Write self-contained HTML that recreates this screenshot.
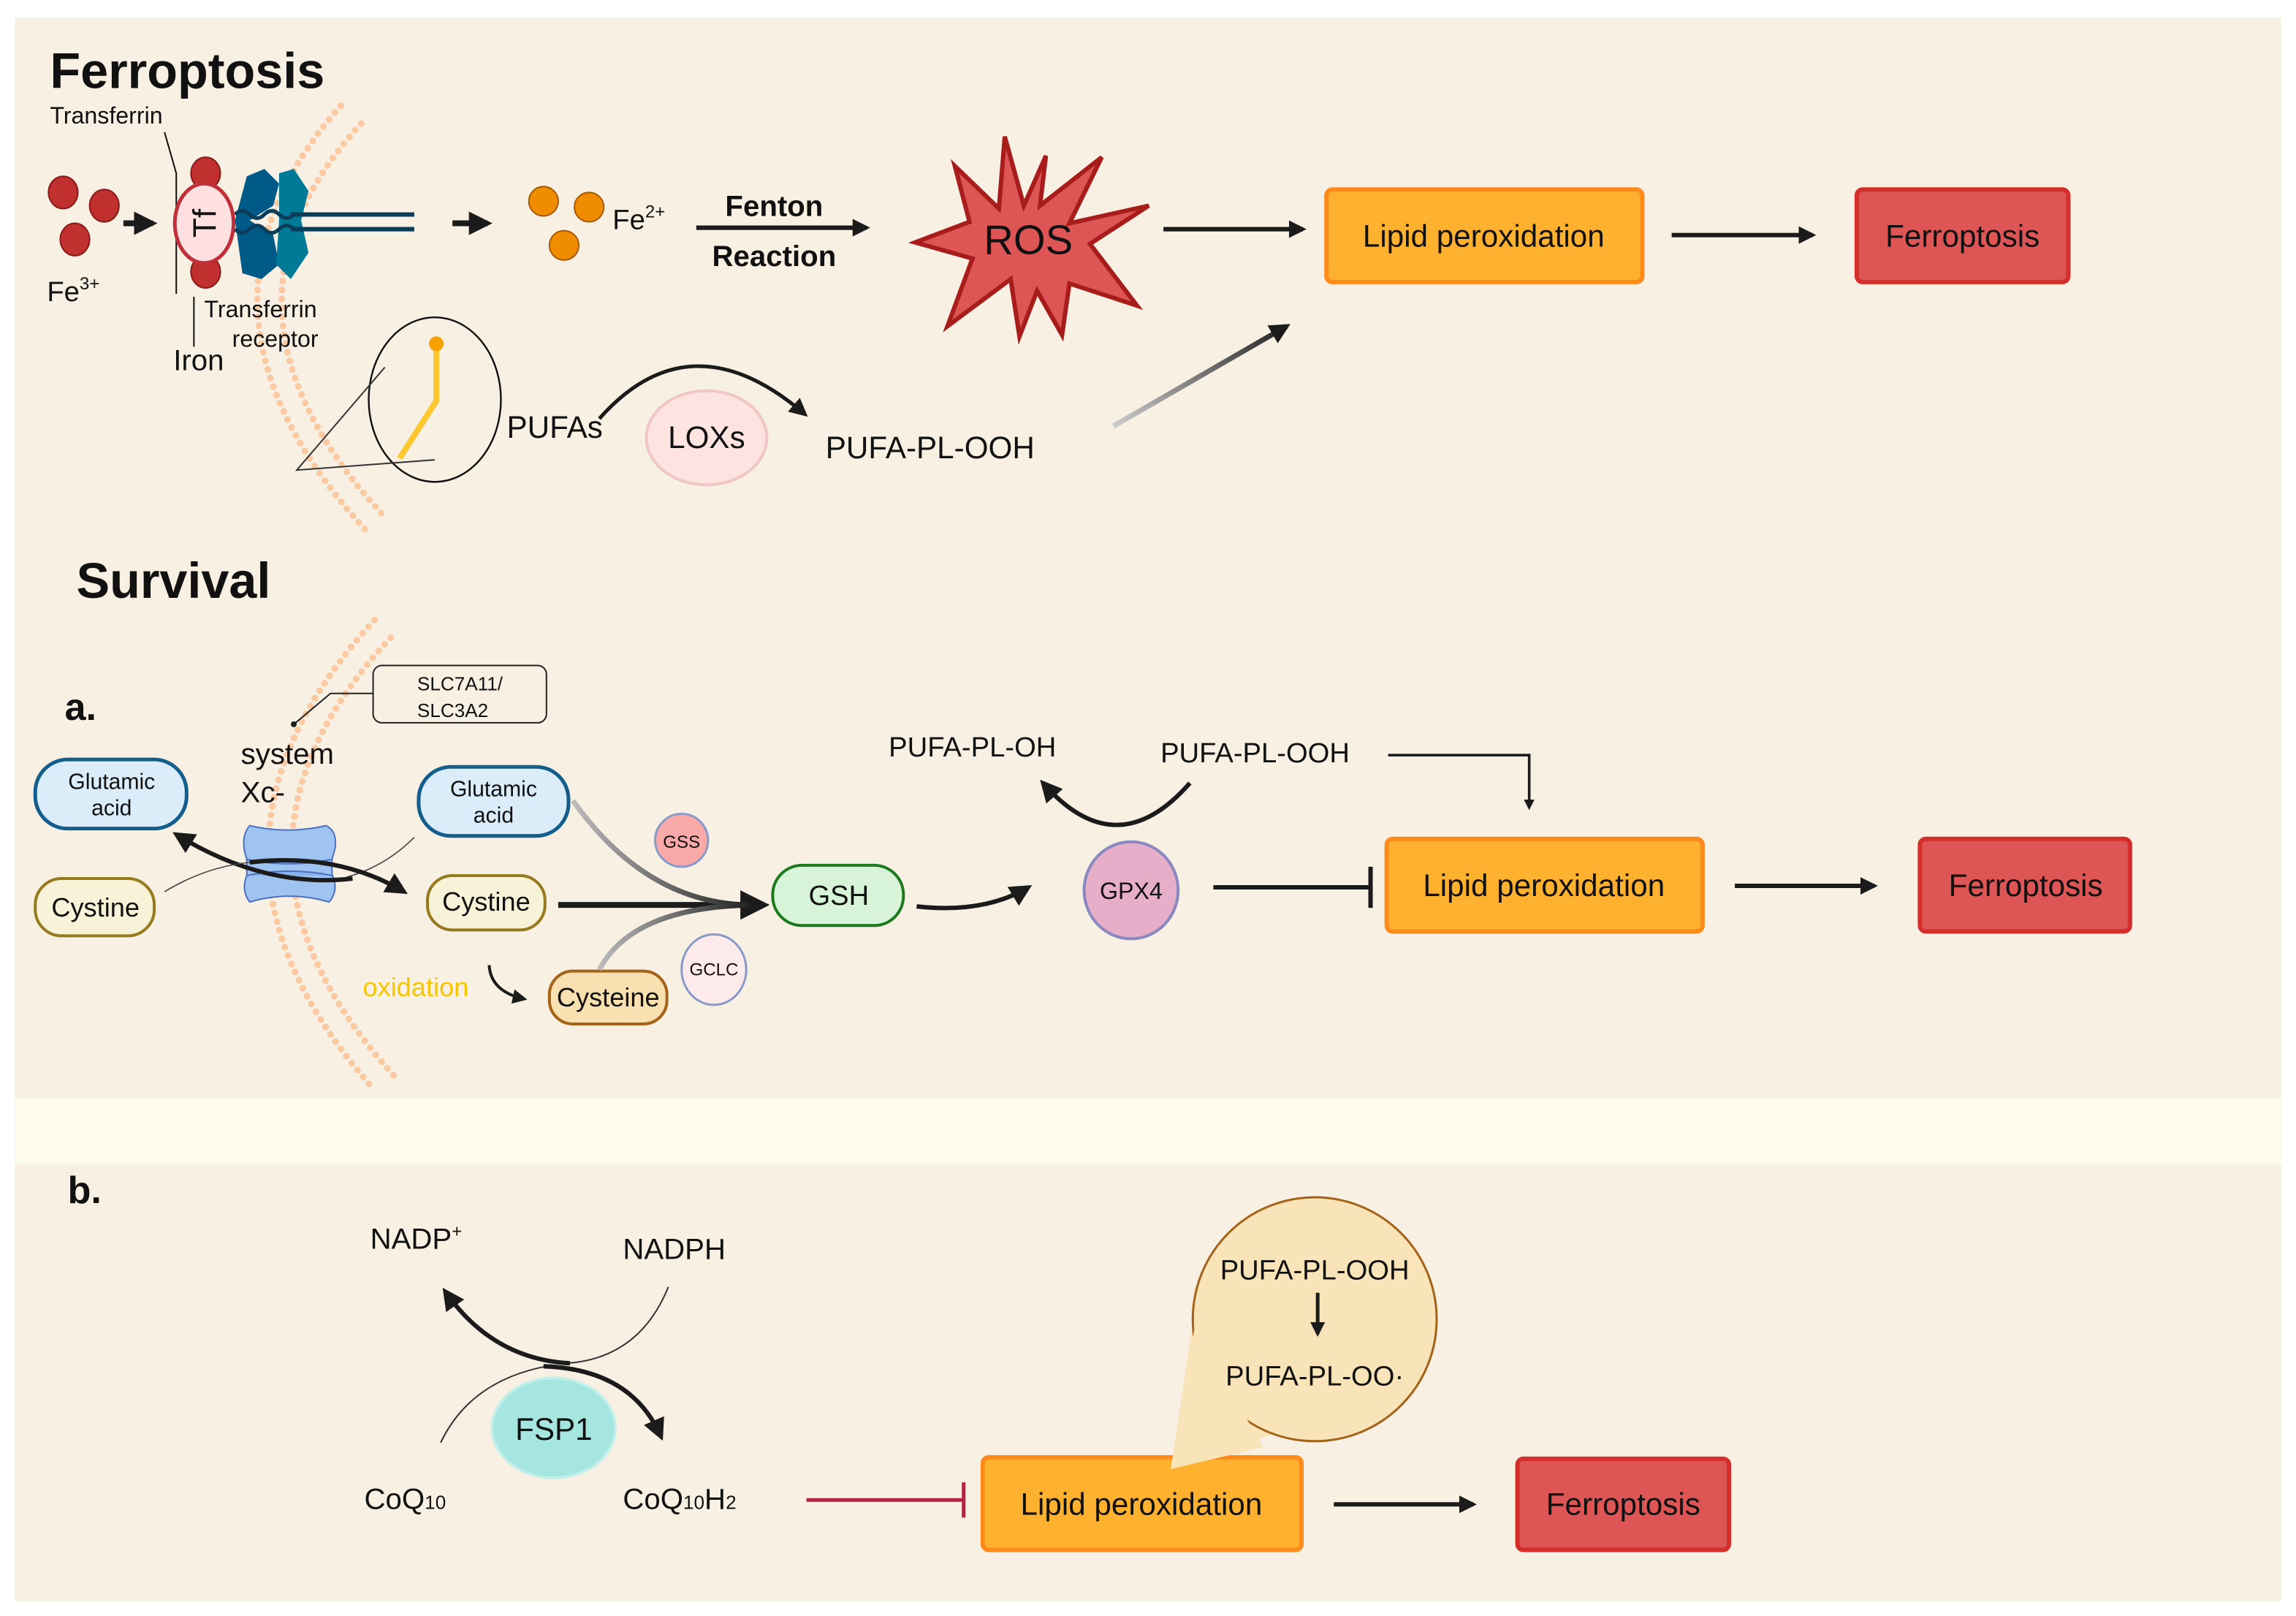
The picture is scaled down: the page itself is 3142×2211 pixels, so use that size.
<!DOCTYPE html>
<html><head><meta charset="utf-8"><style>
html,body{margin:0;padding:0;background:#fff}
svg{display:block}
text{font-family:"Liberation Sans",sans-serif;fill:#111}
</style></head><body>
<svg width="3142" height="2211" viewBox="0 0 1563 1100" preserveAspectRatio="none" xmlns="http://www.w3.org/2000/svg">
<defs>
<marker id="ah" viewBox="0 0 10 10" refX="8" refY="5" markerWidth="4" markerHeight="4" orient="auto-start-reverse" markerUnits="strokeWidth"><path d="M0,0 L10,5 L0,10 z" fill="#1b1b1b"/></marker>
<marker id="ahs" viewBox="0 0 10 10" refX="8" refY="5" markerWidth="5" markerHeight="5" orient="auto-start-reverse" markerUnits="strokeWidth"><path d="M0,0 L10,5 L0,10 z" fill="#1b1b1b"/></marker>
<linearGradient id="g1" x1="0" y1="0" x2="1" y2="0"><stop offset="0" stop-color="#bbb"/><stop offset="1" stop-color="#222"/></linearGradient>
<linearGradient id="g2" x1="0" y1="1" x2="1" y2="0"><stop offset="0" stop-color="#ccc"/><stop offset="1" stop-color="#222"/></linearGradient>
</defs>
<rect x="0" y="0" width="1563" height="1100" fill="#fff"/>
<rect x="10" y="12" width="1543" height="736" fill="#f7f0e3"/>
<rect x="10" y="748" width="1543" height="44" fill="#fdfbee"/>
<rect x="10" y="792" width="1543" height="298" fill="#f7f0e3"/>

<g fill="none" stroke="#fbc9a2" stroke-width="4.5" stroke-linecap="round" stroke-dasharray="0.1 6">
<path d="M232,72 Q110,210 250,362"/>
<path d="M246,84 Q130,210 262,352"/>
<path d="M255,422 Q110,580 255,742"/>
<path d="M266,434 Q130,580 268,732"/>
</g>

<text x="34" y="60" font-size="34" font-weight="bold">Ferroptosis</text>
<text x="52" y="407" font-size="34" font-weight="bold">Survival</text>
<text x="44" y="490" font-size="26" font-weight="bold">a.</text>
<text x="46" y="819" font-size="26" font-weight="bold">b.</text>

<text x="34" y="84" font-size="16">Transferrin</text>
<path d="M112,90 L120,118 L120,200" stroke="#111" stroke-width="1" fill="none"/>
<g fill="#c0302f" stroke="#8a1a1a" stroke-width="1">
<ellipse cx="43" cy="131" rx="10" ry="11"/><ellipse cx="71" cy="140" rx="10" ry="11"/><ellipse cx="51" cy="163" rx="10" ry="11"/>
<ellipse cx="140" cy="118" rx="10" ry="11"/><ellipse cx="140" cy="185" rx="10" ry="11"/>
</g>
<text x="32" y="205" font-size="19">Fe<tspan font-size="12" dy="-8">3+</tspan></text>
<line x1="84" y1="152" x2="104" y2="152" stroke="#1b1b1b" stroke-width="4" marker-end="url(#ah)"/>
<path d="M168,120 L180,115 L190,125 L186,140 L170,150 L186,160 L190,180 L178,190 L165,186 L160,150 Z" fill="#005a88"/>
<path d="M190,118 L200,115 L210,130 L205,150 L210,172 L198,190 L188,180 L190,150 Z" fill="#007a96"/>
<ellipse cx="139" cy="152" rx="20" ry="27" fill="#fde0df" stroke="#c0303a" stroke-width="2.5"/>
<text x="0" y="0" font-size="22" transform="translate(147,152) rotate(-90)" text-anchor="middle">Tf</text>
<line x1="198" y1="146" x2="282" y2="146" stroke="#0a3d5a" stroke-width="3"/>
<line x1="198" y1="156" x2="282" y2="156" stroke="#0a3d5a" stroke-width="3"/>
<path d="M160,146 q5,-5 10,0 q5,5 10,0 q5,-5 10,0 q5,5 10,0 M160,156 q5,5 10,0 q5,-5 10,0 q5,5 10,0 q5,-5 10,0" stroke="#0a3d5a" stroke-width="2.5" fill="none"/>
<line x1="132" y1="202" x2="132" y2="236" stroke="#111" stroke-width="1"/>
<text x="118" y="252" font-size="20">Iron</text>
<text x="139" y="216" font-size="16">Transferrin</text>
<text x="158" y="236" font-size="16">receptor</text>

<line x1="308" y1="152" x2="332" y2="152" stroke="#1b1b1b" stroke-width="4" marker-end="url(#ah)"/>
<g fill="#f08c00" stroke="#a85a00" stroke-width="1">
<circle cx="370" cy="137" r="10"/><circle cx="401" cy="141" r="10"/><circle cx="384" cy="167" r="10"/>
</g>
<text x="417" y="156" font-size="19">Fe<tspan font-size="12" dy="-8">2+</tspan></text>
<text x="527" y="147" font-size="20" font-weight="bold" text-anchor="middle">Fenton</text>
<text x="527" y="181" font-size="20" font-weight="bold" text-anchor="middle">Reaction</text>
<line x1="474" y1="155" x2="590" y2="155" stroke="#1b1b1b" stroke-width="3" marker-end="url(#ah)"/>

<polygon points="684,93 697,140 712,106 708,140 750,107 728,152 782,140 742,166 774,208 728,193 723,228 706,198 694,229 688,190 645,222 662,176 623,165 660,151 650,113 680,142" fill="#dd5555" stroke="#a81c1c" stroke-width="3"/>
<text x="700" y="173" font-size="28" text-anchor="middle">ROS</text>

<line x1="792" y1="156" x2="887" y2="156" stroke="#1b1b1b" stroke-width="3" marker-end="url(#ah)"/>
<rect x="903" y="129" width="215" height="63" rx="4" fill="#fdb12f" stroke="#fd8b1c" stroke-width="3"/>
<text x="1010" y="168" font-size="21" text-anchor="middle">Lipid peroxidation</text>
<line x1="1138" y1="160" x2="1234" y2="160" stroke="#1b1b1b" stroke-width="3" marker-end="url(#ah)"/>
<rect x="1264" y="129" width="144" height="63" rx="4" fill="#dd5555" stroke="#d42f2a" stroke-width="3"/>
<text x="1336" y="168" font-size="21" text-anchor="middle">Ferroptosis</text>

<ellipse cx="296" cy="272" rx="45" ry="56" fill="none" stroke="#111" stroke-width="1.2"/>
<path d="M262,250 L202,320 L296,313" fill="none" stroke="#333" stroke-width="1"/>
<path d="M297,235 L297,273 L272,312" fill="none" stroke="#fdc82f" stroke-width="4"/>
<circle cx="297" cy="234" r="5" fill="#f7a000"/>
<text x="345" y="298" font-size="21">PUFAs</text>
<path d="M408,285 Q470,215 548,282" fill="none" stroke="#1b1b1b" stroke-width="2.5" marker-end="url(#ahs)"/>
<ellipse cx="481" cy="298" rx="41" ry="32" fill="#fde4e0" stroke="#f0c6c6" stroke-width="2"/>
<text x="481" y="305" font-size="21" text-anchor="middle">LOXs</text>
<text x="562" y="312" font-size="21">PUFA-PL-OOH</text>
<line x1="758" y1="290" x2="876" y2="222" stroke="url(#g2)" stroke-width="3.5" marker-end="url(#ah)"/>

<rect x="254" y="453" width="118" height="39" rx="6" fill="none" stroke="#222" stroke-width="1"/>
<text x="284" y="470" font-size="13">SLC7A11/</text>
<text x="284" y="488" font-size="13">SLC3A2</text>
<path d="M254,472 L225,472 L200,493" fill="none" stroke="#222" stroke-width="1"/>
<circle cx="200" cy="493" r="2" fill="#222"/>
<text x="164" y="520" font-size="20">system</text>
<text x="164" y="546" font-size="20">Xc-</text>

<rect x="24" y="517" width="103" height="47" rx="22" fill="#dcedfa" stroke="#135e8c" stroke-width="2.5"/>
<text x="76" y="537" font-size="15" text-anchor="middle">Glutamic</text>
<text x="76" y="555" font-size="15" text-anchor="middle">acid</text>
<rect x="24" y="598" width="81" height="39" rx="18" fill="#f8f3d8" stroke="#957a1e" stroke-width="2"/>
<text x="65" y="624" font-size="18" text-anchor="middle">Cystine</text>
<rect x="285" y="522" width="102" height="47" rx="22" fill="#dcedfa" stroke="#135e8c" stroke-width="2.5"/>
<text x="336" y="542" font-size="15" text-anchor="middle">Glutamic</text>
<text x="336" y="560" font-size="15" text-anchor="middle">acid</text>
<rect x="291" y="596" width="80" height="37" rx="17" fill="#f8f3d8" stroke="#957a1e" stroke-width="2"/>
<text x="331" y="620" font-size="18" text-anchor="middle">Cystine</text>
<rect x="374" y="661" width="80" height="36" rx="16" fill="#f8e0b0" stroke="#a46318" stroke-width="2"/>
<text x="414" y="685" font-size="18" text-anchor="middle">Cysteine</text>

<path d="M170,562 Q196,568 222,562 Q230,566 228,578 L226,585 L226,595 Q231,606 224,614 Q197,606 170,614 Q164,606 168,596 L168,585 Q163,570 170,562 Z" fill="#a0c4f2" stroke="#4a70c0" stroke-width="1"/>
<path d="M168,585 Q197,591 226,585 M168,596 Q197,590 226,596" fill="#8ab2ec" stroke="#4a70c0" stroke-width="1"/>
<path d="M282,570 Q262,590 236,597" fill="none" stroke="#444" stroke-width="0.8"/>
<path d="M240,598 Q180,605 120,568" fill="none" stroke="#1b1b1b" stroke-width="3" marker-end="url(#ahs)"/>
<path d="M112,607 Q140,590 170,587" fill="none" stroke="#444" stroke-width="0.8"/>
<path d="M170,587 Q230,580 275,607" fill="none" stroke="#1b1b1b" stroke-width="3" marker-end="url(#ahs)"/>

<line x1="380" y1="616" x2="520" y2="616" stroke="#1b1b1b" stroke-width="4" marker-end="url(#ahs)"/>
<path d="M390,545 Q440,615 510,616" fill="none" stroke="url(#g1)" stroke-width="3.5"/>
<path d="M408,660 Q430,618 510,616" fill="none" stroke="url(#g1)" stroke-width="3.5"/>
<circle cx="464" cy="572" r="18" fill="#f9aaa8" stroke="#8a9ac8" stroke-width="1.5"/>
<text x="464" y="577" font-size="12" text-anchor="middle">GSS</text>
<ellipse cx="486" cy="660" rx="22" ry="24" fill="#fcebea" stroke="#8a9ac8" stroke-width="1.5"/>
<text x="486" y="664" font-size="12" text-anchor="middle">GCLC</text>
<text x="247" y="678" font-size="18" style="fill:#f7c600">oxidation</text>
<path d="M333,657 Q334,675 357,680" fill="none" stroke="#1b1b1b" stroke-width="2" marker-end="url(#ahs)"/>

<rect x="526" y="589" width="89" height="41" rx="20" fill="#d8f4d8" stroke="#1e7a1e" stroke-width="2"/>
<text x="571" y="616" font-size="19" text-anchor="middle">GSH</text>
<path d="M624,617 Q670,622 700,604" fill="none" stroke="#1b1b1b" stroke-width="3" marker-end="url(#ahs)"/>
<ellipse cx="770" cy="606" rx="32" ry="33" fill="#e7aec9" stroke="#8a88c0" stroke-width="2"/>
<text x="770" y="612" font-size="16" text-anchor="middle">GPX4</text>
<text x="605" y="515" font-size="19">PUFA-PL-OH</text>
<text x="790" y="519" font-size="19">PUFA-PL-OOH</text>
<path d="M810,533 Q760,590 710,533" fill="none" stroke="#1b1b1b" stroke-width="3" marker-end="url(#ahs)"/>
<path d="M945,514 L1041,514 L1041,550" fill="none" stroke="#1b1b1b" stroke-width="1.8" marker-end="url(#ah)"/>
<line x1="826" y1="604" x2="932" y2="604" stroke="#1b1b1b" stroke-width="3"/>
<line x1="933" y1="590" x2="933" y2="618" stroke="#1b1b1b" stroke-width="3"/>
<rect x="944" y="571" width="215" height="63" rx="4" fill="#fdb12f" stroke="#fd8b1c" stroke-width="3"/>
<text x="1051" y="610" font-size="21" text-anchor="middle">Lipid peroxidation</text>
<line x1="1181" y1="603" x2="1276" y2="603" stroke="#1b1b1b" stroke-width="3" marker-end="url(#ah)"/>
<rect x="1307" y="571" width="143" height="63" rx="4" fill="#dd5555" stroke="#d42f2a" stroke-width="3"/>
<text x="1379" y="610" font-size="21" text-anchor="middle">Ferroptosis</text>

<!-- b -->
<text x="252" y="850" font-size="20">NADP<tspan font-size="12" dy="-8">+</tspan></text>
<text x="424" y="857" font-size="20">NADPH</text>
<path d="M455,876 Q435,925 385,928" fill="none" stroke="#333" stroke-width="1"/>
<path d="M388,928 Q335,925 303,879" fill="none" stroke="#1b1b1b" stroke-width="3" marker-end="url(#ahs)"/>
<path d="M300,982 Q320,940 372,930" fill="none" stroke="#333" stroke-width="1"/>
<path d="M370,930 Q430,932 450,978" fill="none" stroke="#1b1b1b" stroke-width="3" marker-end="url(#ahs)"/>
<ellipse cx="377" cy="972" rx="42" ry="34" fill="#a6e6e0" stroke="#c2efe9" stroke-width="2"/>
<text x="377" y="980" font-size="21" text-anchor="middle">FSP1</text>
<text x="248" y="1027" font-size="20">CoQ<tspan font-size="13">10</tspan></text>
<text x="424" y="1027" font-size="20">CoQ<tspan font-size="13">10</tspan>H<tspan font-size="13">2</tspan></text>
<line x1="549" y1="1021" x2="655" y2="1021" stroke="#b0263f" stroke-width="2.5"/>
<line x1="656" y1="1009" x2="656" y2="1033" stroke="#b0263f" stroke-width="2.5"/>
<rect x="669" y="992" width="217" height="63" rx="4" fill="#fdb12f" stroke="#fd8b1c" stroke-width="3"/>
<text x="777" y="1031" font-size="21" text-anchor="middle">Lipid peroxidation</text>
<polygon points="797,1000 815,880 885,970" fill="#f8e4b8"/>
<ellipse cx="895" cy="898" rx="83" ry="83" fill="#f8e4b8" stroke="#a46318" stroke-width="1.5"/>
<polygon points="797,1000 813,905 860,985" fill="#f8e4b8"/>
<text x="895" y="871" font-size="19" text-anchor="middle">PUFA-PL-OOH</text>
<line x1="897" y1="880" x2="897" y2="908" stroke="#1b1b1b" stroke-width="2.5" marker-end="url(#ah)"/>
<text x="895" y="943" font-size="19" text-anchor="middle">PUFA-PL-OO·</text>
<line x1="908" y1="1024" x2="1003" y2="1024" stroke="#1b1b1b" stroke-width="3" marker-end="url(#ah)"/>
<rect x="1033" y="993" width="144" height="62" rx="4" fill="#dd5555" stroke="#d42f2a" stroke-width="3"/>
<text x="1105" y="1031" font-size="21" text-anchor="middle">Ferroptosis</text>
</svg>
</body></html>
